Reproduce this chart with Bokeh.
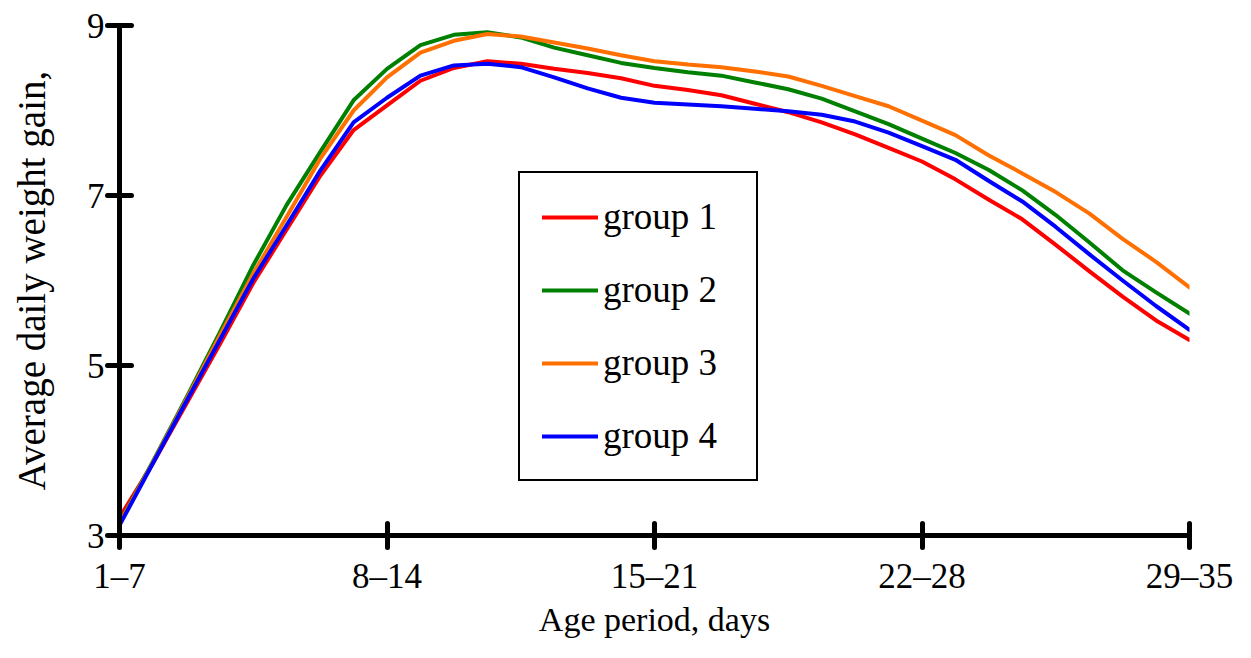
from bokeh.plotting import figure
from bokeh.models import Legend, LegendItem, FixedTicker, Range1d
from bokeh.embed import file_html
from bokeh.resources import INLINE

periods = ["1–7", "8–14", "15–21", "22–28", "29–35"]
period_pos = [0, 1, 2, 3, 4]
# curve readings taken every 1/8 of an age period
x_steps = [i / 8 for i in range(33)]

group1 = [3.21, 3.85, 4.55, 5.25, 5.97, 6.60, 7.23, 7.77, 8.06, 8.35, 8.50, 8.58, 8.55,
          8.49, 8.44, 8.38, 8.29, 8.24, 8.18, 8.08, 7.98, 7.86, 7.72, 7.56, 7.40, 7.19,
          6.95, 6.72, 6.42, 6.11, 5.81, 5.53, 5.30]
group2 = [3.15, 3.87, 4.62, 5.39, 6.18, 6.89, 7.51, 8.12, 8.49, 8.77, 8.89, 8.92, 8.86,
          8.74, 8.65, 8.56, 8.50, 8.45, 8.41, 8.33, 8.25, 8.14, 7.99, 7.84, 7.67, 7.50,
          7.30, 7.06, 6.77, 6.45, 6.12, 5.86, 5.61]
group3 = [3.14, 3.86, 4.60, 5.35, 6.08, 6.75, 7.43, 8.00, 8.39, 8.68, 8.82, 8.90, 8.87,
          8.80, 8.73, 8.65, 8.58, 8.54, 8.51, 8.46, 8.40, 8.29, 8.17, 8.05, 7.88, 7.71,
          7.47, 7.26, 7.04, 6.79, 6.49, 6.22, 5.92]
group4 = [3.12, 3.85, 4.58, 5.30, 6.02, 6.65, 7.29, 7.86, 8.15, 8.41, 8.53, 8.55, 8.51,
          8.39, 8.26, 8.15, 8.09, 8.07, 8.05, 8.02, 7.99, 7.95, 7.87, 7.74, 7.58, 7.42,
          7.17, 6.93, 6.63, 6.31, 6.00, 5.70, 5.42]

y_ticks = [3, 5, 7, 9]
names = ["group 1", "group 2", "group 3", "group 4"]
colors = ["#FF0000", "#008000", "#FF7000", "#0000FF"]

FONT = "Liberation Serif"

p = figure(width=1235, height=642, x_range=Range1d(0, 4), y_range=Range1d(3, 9),
           output_backend="svg", toolbar_location=None,
           min_border_left=119, min_border_top=25, min_border_right=46, min_border_bottom=107)

p.xgrid.grid_line_color = None
p.ygrid.grid_line_color = None
p.outline_line_color = None

p.xaxis.ticker = FixedTicker(ticks=period_pos)
p.xaxis.major_label_overrides = {pos: lab for pos, lab in zip(period_pos, periods)}
p.yaxis.ticker = FixedTicker(ticks=y_ticks)

for ax in (p.xaxis[0], p.yaxis[0]):
    ax.axis_line_width = 5
    ax.axis_line_color = "black"
    ax.major_tick_line_width = 5
    ax.major_tick_line_color = "black"
    ax.major_tick_line_cap = "round"
    ax.major_tick_in = 12
    ax.major_tick_out = 12
    ax.minor_tick_line_color = None
    ax.major_label_text_font = FONT
    ax.major_label_text_font_size = "35px"
    ax.major_label_text_color = "black"
    ax.axis_label_text_font = FONT
    ax.axis_label_text_font_style = "normal"
    ax.axis_label_text_color = "black"

p.xaxis.axis_label = "Age period, days"
p.xaxis.axis_label_text_font_size = "34px"
p.yaxis.axis_label = "Average daily weight gain,"
p.yaxis.axis_label_text_font_size = "39px"
p.xaxis.major_label_standoff = 9
p.xaxis.axis_label_standoff = 2
p.yaxis.major_label_standoff = 3
p.yaxis.axis_label_standoff = 31

renderers = []
for ys, c in zip([group1, group2, group3, group4], colors):
    r = p.line(x_steps, ys, line_color=c, line_width=4, line_join="round", line_cap="round")
    renderers.append(r)

legend = Legend(items=[LegendItem(label=n, renderers=[r]) for n, r in zip(names, renderers)],
                location=(399, 54))
legend.padding = 22
legend.spacing = 30
legend.label_height = 40
legend.glyph_height = 40
legend.glyph_width = 56
legend.label_standoff = 5
legend.label_width = 131
legend.label_text_font = FONT
legend.label_text_font_size = "37px"
legend.label_text_color = "black"
legend.border_line_color = "black"
legend.border_line_alpha = 1.0
legend.border_line_width = 2
legend.background_fill_color = "white"
legend.background_fill_alpha = 1.0
p.add_layout(legend)

open("out.html", "w").write(file_html(p, INLINE))
